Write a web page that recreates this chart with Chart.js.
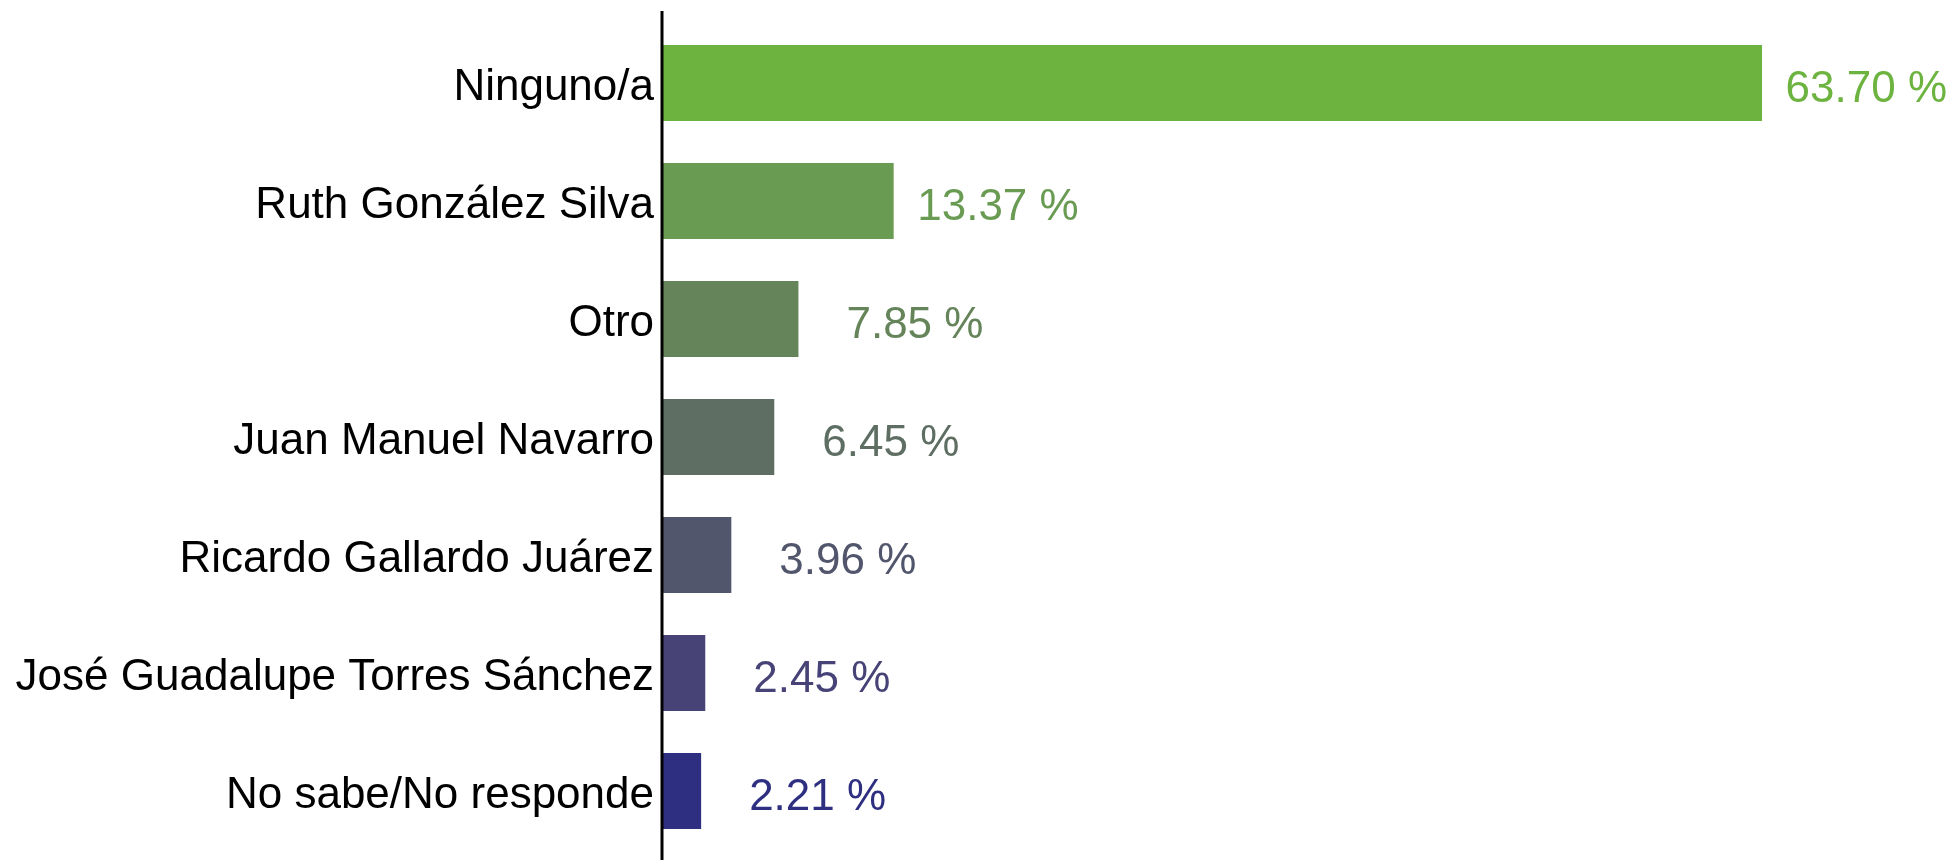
<!DOCTYPE html>
<html>
<head>
<meta charset="utf-8">
<script src="https://cdn.jsdelivr.net/npm/chart.js@4/dist/chart.umd.min.js"></script>
<style>
  body { margin: 0; background: #fff; }
  #wrap { width: 1957px; height: 860px; position: relative; }
</style>
</head>
<body>
<div id="wrap"><canvas id="barras"></canvas></div>
<script>
"use strict";

var categorias = [
  'Ninguno/a',
  'Ruth González Silva',
  'Otro',
  'Juan Manuel Navarro',
  'Ricardo Gallardo Juárez',
  'José Guadalupe Torres Sánchez',
  'No sabe/No responde'
];
var porcentajes = [63.70, 13.37, 7.85, 6.45, 3.96, 2.45, 2.21];
var colores = ['#6db33f', '#6a9b52', '#65845a', '#5e6e63', '#52566d', '#474377', '#2e2f80'];

var fuente = '"Liberation Sans", Arial, sans-serif';

// eje vertical y etiquetas de valor
var etiquetas = {
  id: 'etiquetas',
  afterDatasetsDraw: function (chart) {
    var c = chart.ctx;
    var x0 = chart.scales.x.getPixelForValue(0);
    c.save();
    c.strokeStyle = '#000';
    c.lineWidth = 3;
    c.beginPath();
    c.moveTo(x0 - 1, 11);
    c.lineTo(x0 - 1, chart.height);
    c.stroke();

    c.font = '44px ' + fuente;
    c.textAlign = 'right';
    c.textBaseline = 'middle';
    chart.getDatasetMeta(0).data.forEach(function (bar, i) {
      c.fillStyle = colores[i];
      c.fillText(porcentajes[i].toFixed(2) + ' %', bar.x + 185, bar.y + 7);
    });
    c.restore();
  }
};

var ctx = document.getElementById('barras');
var grafica = new Chart(ctx, {
  type: 'bar',
  data: {
    labels: categorias,
    datasets: [{
      data: porcentajes,
      backgroundColor: colores,
      borderWidth: 0,
      barPercentage: 0.644,
      categoryPercentage: 1
    }]
  },
  options: {
    indexAxis: 'y',
    responsive: true,
    maintainAspectRatio: false,
    animation: false,
    layout: { padding: { top: 24, bottom: 10, left: 0, right: 0 } },
    plugins: {
      legend: { display: false },
      tooltip: { enabled: false }
    },
    scales: {
      x: {
        display: false,
        min: 0,
        max: 75
      },
      y: {
        grid: { display: false, drawTicks: false },
        border: { display: false },
        ticks: {
          autoSkip: false,
          color: '#000',
          padding: 9,
          labelOffset: 5,
          font: { family: fuente, size: 44 }
        },
        afterFit: function (scale) {
          scale.width = 663;
          scale.paddingTop = 0;
          scale.paddingBottom = 0;
        }
      }
    }
  },
  plugins: [etiquetas]
});
</script>
</body>
</html>
